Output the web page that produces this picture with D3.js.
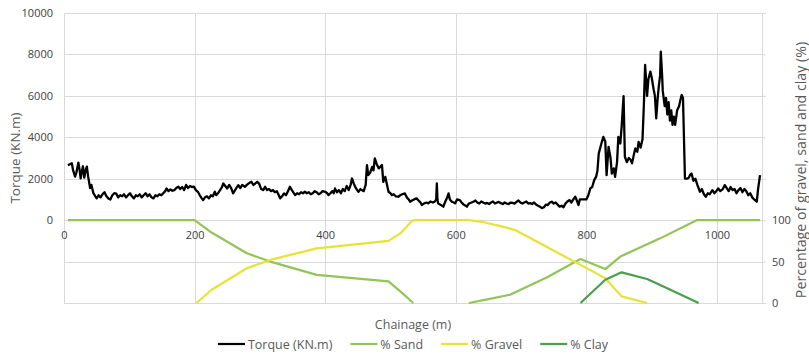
<!DOCTYPE html>
<html>
<head>
<meta charset="utf-8">
<script src="https://cdn.jsdelivr.net/npm/d3@7"></script>
<style>
  html, body { margin: 0; padding: 0; background: #ffffff; }
  svg { display: block; font-family: "Open Sans", sans-serif; }
</style>
</head>
<body>
<svg id="chart" width="809" height="355"></svg>
<script>
// Torque log along the drive: [chainage (m), torque (kN.m)]
const torqueReadings = [
  [6,2650],[9,2700],[12,2750],[14,2400],[17,2100],[19,2300],[22,2780],[24,2400],[25.5,2020],[27,2300],
  [29,2600],[31,2050],[33,2400],[35,2580],[37,2100],[40,1550],[42,1700],[45,1300],[48,1150],[50,1050],
  [53,1200],[56,1100],[59,1250],[62,1350],[65,1150],[68,1050],[71,1000],[74,1200],[77,1300],[80,1280],
  [83,1100],[86,1200],[89,1150],[92,1250],[95,1100],[98,1200],[101,1300],[104,1150],[107,1050],[110,1200],
  [113,1150],[116,1250],[119,1100],[122,1200],[125,1300],[128,1150],[131,1250],[134,1100],[137,1050],[140,1200],
  [143,1150],[146,1250],[149,1200],[152,1300],[155,1400],[157,1530],[160,1400],[163,1480],[166,1420],[169,1450],
  [172,1550],[175,1620],[178,1500],[181,1600],[184,1450],[187,1700],[190,1550],[193,1650],[196,1600],[199,1620],
  [202,1450],[205,1370],[208,1200],[211,1050],[213,970],[216,1100],[219,1150],[222,1050],[225,1200],[228,1150],
  [231,1370],[233,1210],[236,1300],[239,1450],[242,1600],[244,1770],[247,1650],[250,1530],[253,1700],[256,1550],
  [259,1290],[262,1450],[265,1600],[267,1690],[270,1550],[273,1700],[277,1610],[280,1700],[283,1780],[287,1850],
  [290,1700],[293,1770],[296,1850],[299,1750],[302,1500],[305,1450],[308,1610],[311,1450],[314,1500],[317,1400],
  [320,1450],[323,1350],[326,1400],[329,1200],[331,1050],[334,1150],[337,1290],[340,1200],[343,1400],[346,1610],
  [349,1450],[352,1300],[354,1210],[357,1300],[360,1250],[363,1350],[366,1300],[369,1370],[372,1300],[375,1350],
  [378,1250],[381,1300],[384,1400],[387,1350],[390,1250],[393,1300],[396,1400],[400,1370],[403,1300],[405,1210],
  [408,1300],[411,1400],[413,1300],[415,1530],[418,1350],[421,1450],[424,1300],[427,1500],[430,1400],[433,1650],
  [436,1450],[439,1700],[441,2010],[444,1750],[446,1610],[449,1450],[451,1370],[454,1500],[456,1450],[459,1400],
  [462,1700],[464,2660],[466,2170],[469,2300],[472,2570],[474,2400],[476,2980],[479,2700],[482,2500],[484,2560],
  [487,2660],[489,1850],[492,2090],[494,1800],[497,1370],[500,1300],[502,1210],[505,1250],[508,1150],[512,1130],
  [515,1200],[518,1250],[522,1290],[525,1100],[528,1000],[530,890],[533,950],[536,1000],[540,1050],[543,950],
  [546,850],[548,730],[551,800],[555,850],[558,810],[561,900],[565,850],[568,900],[570,1000],[571,1770],
  [572,1000],[573,810],[576,750],[579,700],[581,650],[584,900],[587,1100],[589,1290],[591,1000],[594,890],
  [597,850],[599,810],[602,1000],[606,970],[609,850],[612,750],[615,700],[617,650],[620,800],[624,850],
  [627,890],[630,950],[633,850],[636,800],[639,900],[642,850],[645,800],[648,830],[651,780],[654,850],
  [657,900],[660,800],[663,850],[666,880],[669,820],[672,780],[675,850],[678,800],[681,780],[684,850],
  [687,830],[690,800],[693,880],[696,950],[699,850],[702,800],[705,850],[708,900],[711,800],[714,820],
  [717,780],[720,850],[723,750],[726,700],[729,650],[732,580],[735,620],[738,750],[741,730],[744,850],
  [747,890],[750,800],[753,850],[756,750],[759,650],[762,700],[765,620],[768,800],[771,900],[774,970],
  [777,850],[780,1000],[783,1130],[786,900],[788,730],[790,1000],[794,1000],[800,1000],[803,1200],[806,1530],
  [809,1600],[812,1930],[815,2100],[817,2400],[819,3220],[821,3460],[823,3700],[826,4020],[829,3800],[831,2170],
  [834,3540],[837,3000],[839,2250],[842,2500],[844,2090],[847,2800],[849,4020],[852,3700],[854,4500],[857,5990],
  [859,3060],[862,2800],[865,3000],[868,2900],[870,2740],[873,3200],[875,3460],[878,3300],[880,3780],[883,3500],
  [886,3900],[888,5500],[890,7490],[893,6000],[895,6800],[898,7170],[900,6900],[903,6320],[905,6000],[907,4910],
  [909,5800],[911,6480],[913,7000],[914,8130],[916,7000],[917,6240],[920,5500],[922,5900],[924,5100],[926,5700],
  [928,4800],[930,5300],[932,4600],[934,5000],[936,4600],[939,5300],[942,5500],[944,5800],[946,6040],[948,5900],
  [951,2010],[954,2000],[957,2050],[959,2200],[961,2250],[964,1900],[967,2000],[970,1700],[974,1370],[977,1500],
  [980,1250],[983,1130],[986,1300],[989,1250],[993,1450],[996,1300],[999,1400],[1002,1530],[1005,1400],[1009,1500],
  [1012,1690],[1015,1550],[1018,1400],[1021,1600],[1024,1450],[1027,1500],[1030,1300],[1033,1450],[1036,1550],[1039,1350],
  [1042,1500],[1045,1400],[1048,1200],[1051,1300],[1054,1100],[1057,1000],[1061,890],[1063,1500],[1066,2170]
];

// Ground composition along the drive (percent); null marks a gap where sand is absent
const sandChainage = [6, 200, 226, 280, 316, 387, 497, 515, 535, 577, 620, 652, 683, 740, 791, 829, 852, 913, 969, 1066];
const sandPct      = [100, 100, 85, 60, 50, 34, 26, 14, 0, null, 0, 5, 10, 31, 53, 41, 56, 78, 100, 100];

const gravelChainage = [203, 226, 280, 316, 387, 497, 515, 533, 537, 620, 640, 678, 691, 829, 854, 893];
const gravelPct      = [0, 16, 42, 52, 66, 75, 84, 99, 100, 100, 98, 91, 88, 30, 8, 0];

const clayChainage = [791, 829, 854, 893, 923, 972];
const clayPct      = [0, 28, 37, 29, 18, 0];

// Axis ticks
const chainageTicks = [0, 200, 400, 600, 800, 1000];
const torqueTicks = [0, 2000, 4000, 6000, 8000, 10000];
const torqueGrid = [-4000, -2000, 0, 2000, 4000, 6000, 8000, 10000];
const percentTicks = [0, 50, 100, 150, 200, 250, 300, 350];
const percentLabelled = [0, 50, 100];

const colors = {
  torque: "#000000",
  sand: "#92c457",
  gravel: "#e6e236",
  clay: "#4a9f4a",
  grid: "#d9d9d9",
  tick: "#404040",
  text: "#595959"
};

const svg = d3.select("#chart");
const plotLeft = 64, plotRight = 762, plotTop = 13, plotBottom = 303;

const x = d3.scaleLinear().domain([0, 1069]).range([plotLeft, plotRight]);
const yT = d3.scaleLinear().domain([-4000, 10000]).range([plotBottom, plotTop]);
const yP = d3.scaleLinear().domain([0, 350]).range([plotBottom, plotTop]);

// Gridlines
const grid = svg.append("g").attr("stroke", colors.grid).attr("stroke-width", 1);
grid.selectAll("line.h").data(torqueGrid).join("line")
  .attr("x1", plotLeft).attr("x2", plotRight)
  .attr("y1", d => Math.round(yT(d)) + 0.5).attr("y2", d => Math.round(yT(d)) + 0.5);
grid.selectAll("line.v").data(chainageTicks).join("line")
  .attr("y1", plotTop).attr("y2", plotBottom)
  .attr("x1", d => Math.round(x(d)) + 0.5).attr("x2", d => Math.round(x(d)) + 0.5);

// Left axis (torque)
const axL = svg.append("g").attr("transform", `translate(${plotLeft},0)`)
  .call(d3.axisLeft(yT).tickValues(torqueTicks).tickSize(0).tickPadding(11).tickFormat(d3.format("d")));
axL.select(".domain").remove();

// Right axis (percentage)
const axR = svg.append("g").attr("transform", `translate(${plotRight},0)`)
  .call(d3.axisRight(yP).tickValues(percentTicks).tickSize(4).tickPadding(6)
    .tickFormat(d => percentLabelled.includes(d) ? d : ""));
axR.select(".domain").attr("stroke", colors.grid);
axR.selectAll(".tick line").attr("stroke", colors.grid);

// Bottom axis labels at the zero-torque line
const axB = svg.append("g").attr("transform", `translate(0,${yT(0)})`)
  .call(d3.axisBottom(x).tickValues(chainageTicks).tickSize(0).tickPadding(11).tickFormat(d3.format("d")));
axB.select(".domain").remove();

svg.selectAll(".tick text").attr("fill", colors.tick).attr("font-size", 11)
  .attr("font-family", "'Open Sans', sans-serif");

// Composition lines
const pctLine = d3.line().defined(d => d[1] !== null).x(d => x(d[0])).y(d => yP(d[1]));
const series = [
  { key: "sand", ch: sandChainage, v: sandPct },
  { key: "gravel", ch: gravelChainage, v: gravelPct },
  { key: "clay", ch: clayChainage, v: clayPct }
];
series.forEach(s => {
  svg.append("path")
    .datum(s.ch.map((c, i) => [c, s.v[i]]))
    .attr("fill", "none")
    .attr("stroke", colors[s.key])
    .attr("stroke-width", 2.2)
    .attr("stroke-linejoin", "round")
    .attr("d", pctLine);
});

// Torque line
const tLine = d3.line().x(d => x(d[0])).y(d => yT(d[1]));
svg.append("path")
  .datum(torqueReadings)
  .attr("fill", "none")
  .attr("stroke", colors.torque)
  .attr("stroke-width", 2.3)
  .attr("stroke-linejoin", "round")
  .attr("d", tLine);

// Axis titles
svg.append("text")
  .attr("transform", `translate(15,${(plotTop + plotBottom) / 2}) rotate(-90)`)
  .attr("text-anchor", "middle").attr("dominant-baseline", "central")
  .attr("font-size", 13.5).attr("fill", colors.text)
  .text("Torque (KN.m)");

svg.append("text")
  .attr("transform", `translate(800,170) rotate(-90)`)
  .attr("text-anchor", "middle").attr("dominant-baseline", "central")
  .attr("font-size", 14.2).attr("fill", colors.text)
  .text("Percentage of gravel, sand and clay (%)");

svg.append("text")
  .attr("x", (plotLeft + plotRight) / 2).attr("y", 324)
  .attr("text-anchor", "middle").attr("dominant-baseline", "central")
  .attr("font-size", 12.5).attr("fill", colors.text)
  .text("Chainage (m)");

// Legend
const legendItems = [
  { label: "Torque (KN.m)", color: colors.torque },
  { label: "% Sand", color: colors.sand },
  { label: "% Gravel", color: colors.gravel },
  { label: "% Clay", color: colors.clay }
];
const legend = svg.append("g");
let cursor = 0;
legendItems.forEach(item => {
  const g = legend.append("g").attr("transform", `translate(${cursor},0)`);
  g.append("line").attr("x1", 0).attr("x2", 27).attr("y1", 0).attr("y2", 0)
    .attr("stroke", item.color).attr("stroke-width", 2.2);
  const t = g.append("text").attr("x", 30).attr("y", 0)
    .attr("dominant-baseline", "central")
    .attr("font-size", 12.5).attr("fill", colors.text).text(item.label);
  cursor += 30 + t.node().getComputedTextLength() + 18;
});
const legendWidth = cursor - 18;
legend.attr("transform", `translate(${(plotLeft + plotRight) / 2 - legendWidth / 2},344)`);
</script>
</body>
</html>
